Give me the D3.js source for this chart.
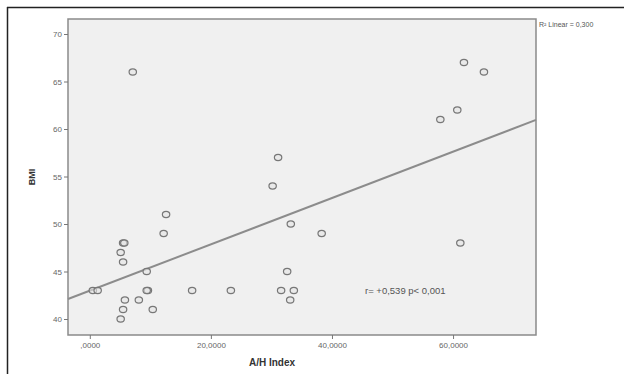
<!DOCTYPE html>
<html><head><meta charset="utf-8">
<script src="https://cdn.jsdelivr.net/npm/d3@7/dist/d3.min.js"></script>
<style>body{margin:0;background:#fff}svg{display:block}text{font-family:"Liberation Sans",Arial,sans-serif}</style>
</head><body><svg id="c" width="624" height="374"></svg>
<script>
const ahIndex = [7.1,12.6,12.2,5.5,5.7,5.1,5.5,9.4,0.5,1.3,9.6,9.4,16.9,23.3,31.6,33.7,33.1,32.6,33.2,38.3,31.1,30.2,5.8,8.1,5.5,10.4,5.1,61.2,61.8,65.1,60.7,57.9];
const bmi     = [66,51,49,48,48,47,46,45,43,43,43,43,43,43,43,43,42,45,50,49,57,54,42,42,41,41,40,48,67,66,62,61];
const xTicks = [0,20,40,60];
const xTickLabels = [",0000","20,0000","40,0000","60,0000"];
const yTicks = [40,45,50,55,60,65,70];
const fitLine = {intercept: 42.98, slope: 0.244};
const legendText = "R\u00B2 Linear = 0,300";
const annotText = "r= +0,539 p< 0,001";

const svg = d3.select("#c");
const L=68, R=536, T=19, B=335;
const x = d3.scaleLinear().domain([-3.6,73.7]).range([L,R]);
const y = d3.scaleLinear().domain([40,70]).range([319,34]);

svg.append("line").attr("x1",7).attr("y1",7.5).attr("x2",624).attr("y2",7.5).attr("stroke","#222").attr("stroke-width",1.5);
svg.append("line").attr("x1",7.5).attr("y1",7).attr("x2",7.5).attr("y2",374).attr("stroke","#222").attr("stroke-width",1.5);

svg.append("rect").attr("x",L).attr("y",T).attr("width",R-L).attr("height",B-T)
  .attr("fill","#f0f0f0").attr("stroke","#8a8a8a").attr("stroke-width",1.5);

const xa = svg.append("g").attr("transform",`translate(0,${B})`)
  .call(d3.axisBottom(x).tickValues(xTicks).tickSize(4).tickPadding(3).tickFormat((d,i)=>xTickLabels[i]));
const ya = svg.append("g").attr("transform",`translate(${L},0)`)
  .call(d3.axisLeft(y).tickValues(yTicks).tickSize(4).tickPadding(2));
[xa,ya].forEach(a=>{
  a.select(".domain").remove();
  a.selectAll("line").attr("stroke","#777");
  a.selectAll("text").attr("fill","#666").style("font-size","8px");
});

const xd = x.domain();
svg.append("line")
  .attr("x1",x(xd[0])).attr("y1",y(fitLine.intercept+fitLine.slope*xd[0]))
  .attr("x2",x(xd[1])).attr("y2",y(fitLine.intercept+fitLine.slope*xd[1]))
  .attr("stroke","#8c8c8c").attr("stroke-width",2);

svg.append("g").selectAll("ellipse").data(ahIndex.map((v,i)=>[v,bmi[i]])).join("ellipse")
  .attr("cx",d=>x(d[0])).attr("cy",d=>y(d[1])).attr("rx",3.7).attr("ry",3.1)
  .attr("fill","#e4e4e4").attr("fill-opacity",0.6).attr("stroke","#777").attr("stroke-width",1.2);

svg.append("text").attr("x",365).attr("y",294).attr("fill","#555").style("font-size","9.5px").text(annotText);
svg.append("text").attr("x",539).attr("y",27).attr("fill","#555").style("font-size","7px").text(legendText);

svg.append("text").attr("transform","translate(35,177) rotate(-90)").attr("text-anchor","middle")
  .attr("fill","#333").style("font-size","9px").style("font-weight","bold").text("BMI");
svg.append("text").attr("x",272).attr("y",366).attr("text-anchor","middle")
  .attr("fill","#333").style("font-size","10px").style("font-weight","bold").text("A/H Index");
</script></body></html>
